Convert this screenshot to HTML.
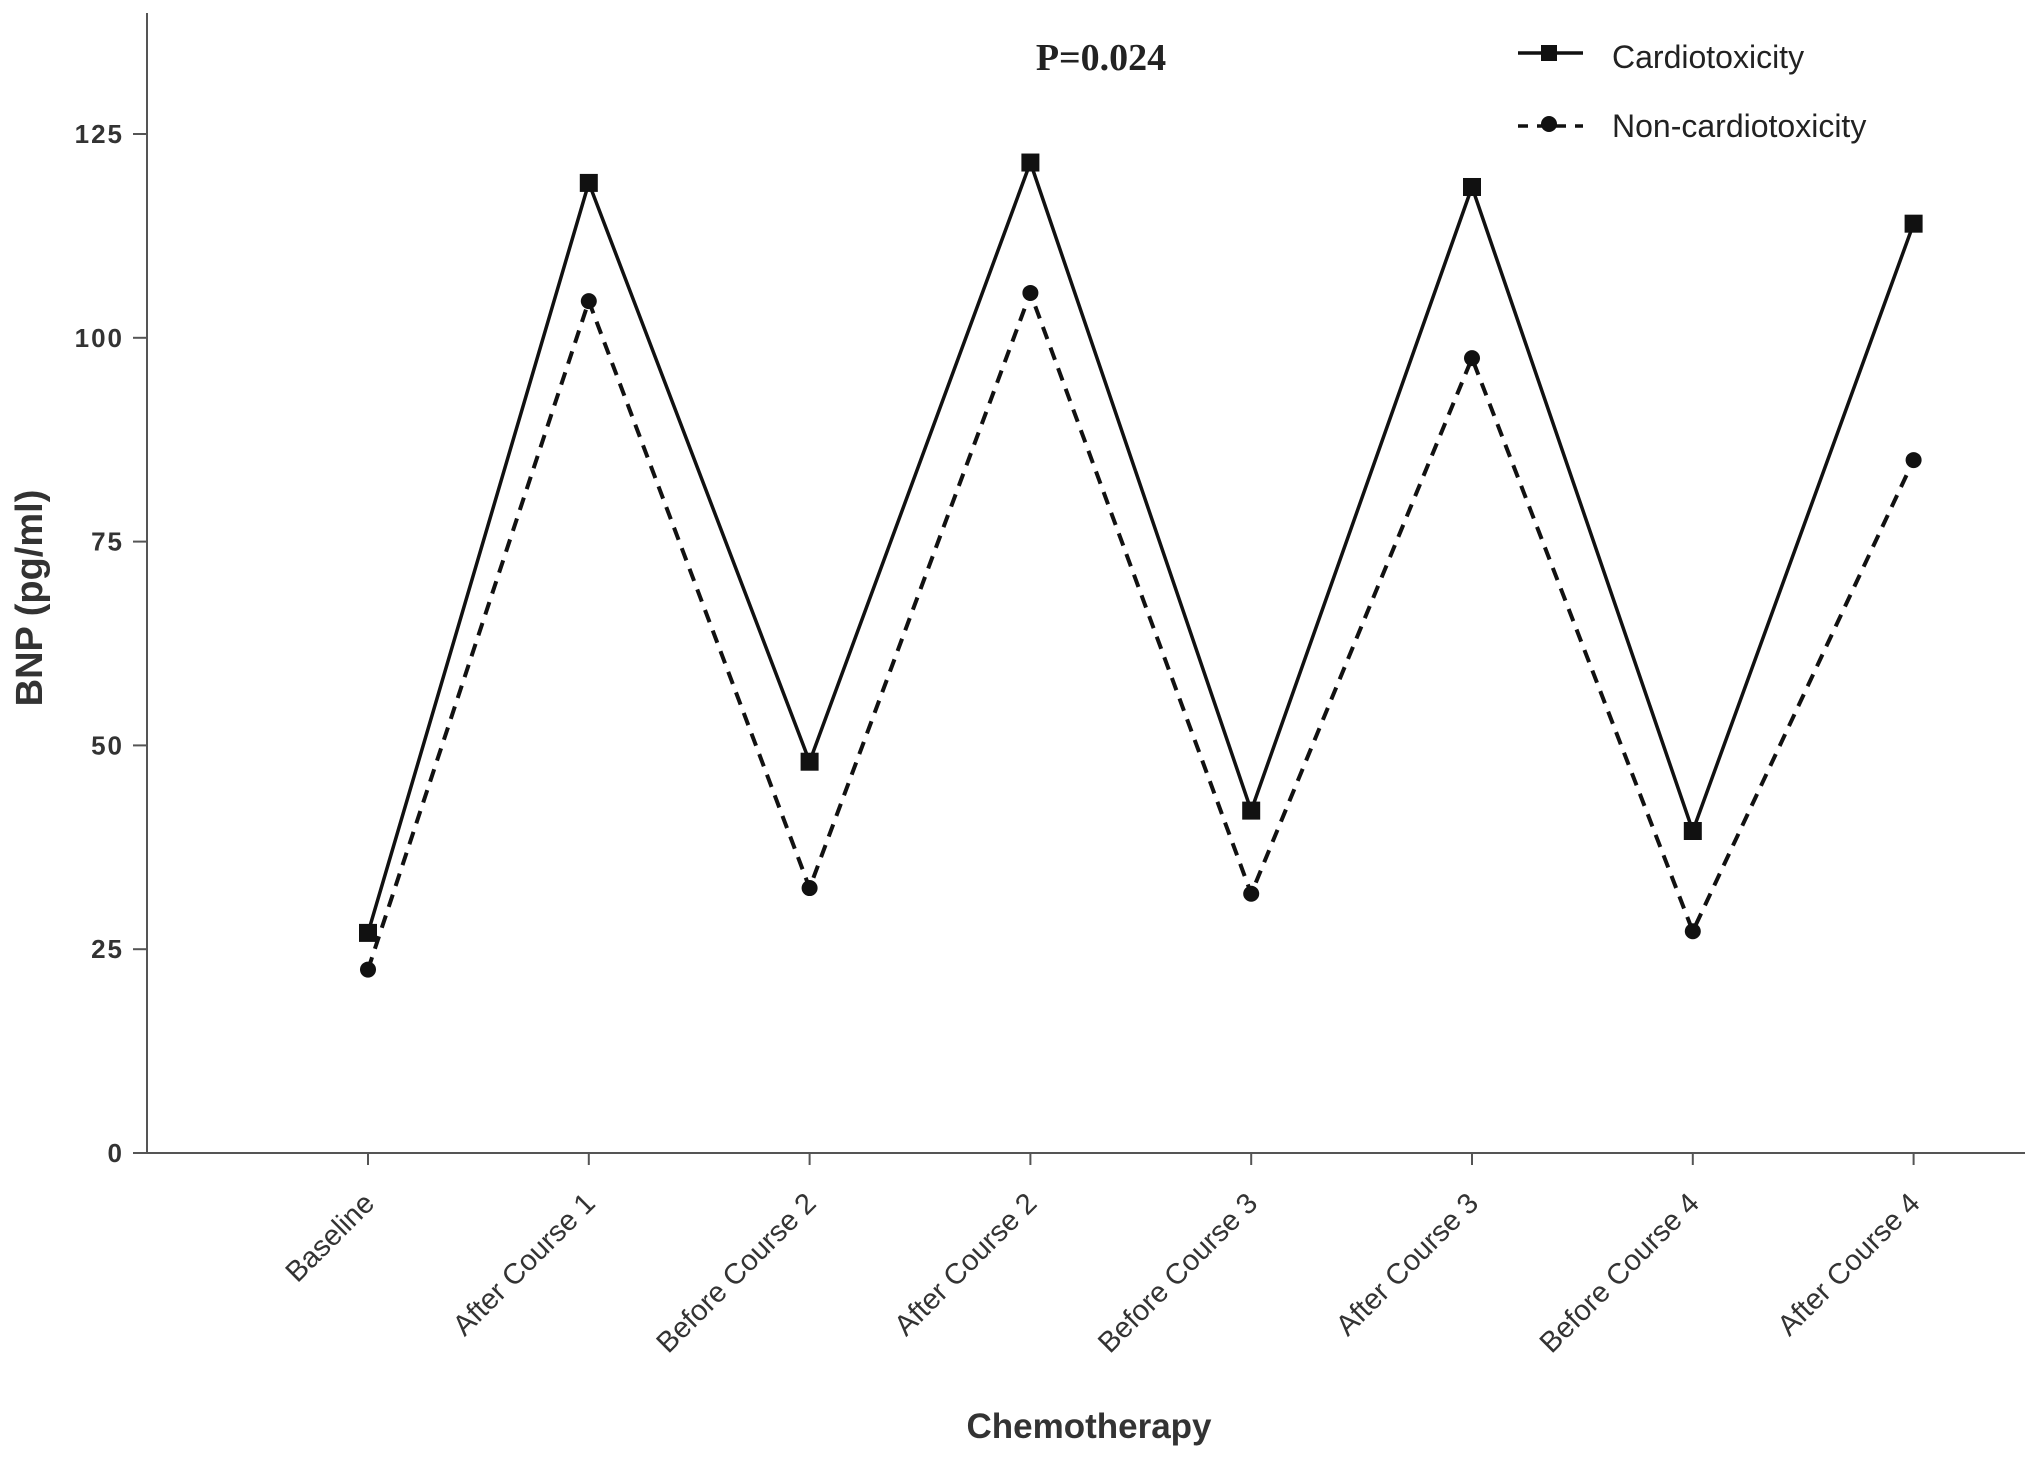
<!DOCTYPE html>
<html><head><meta charset="utf-8"><style>
html,body{margin:0;padding:0;background:#fff;}
svg{display:block;font-family:"Liberation Sans",sans-serif;}
</style></head><body>
<svg id="chart" width="2031" height="1457" viewBox="0 0 2031 1457">
<g id="axes"></g>
<g id="series"></g>
<text x="1101" y="70" font-family="Liberation Serif, serif" font-weight="bold" font-size="38" text-anchor="middle" fill="#222">P=0.024</text>
<g>
  <g>
    <line x1="1518" y1="53" x2="1583" y2="53" stroke="#111" stroke-width="3.5"/>
    <rect x="1541" y="45" width="16" height="16" fill="#111"/>
    <text x="1612" y="68" font-size="32" fill="#222">Cardiotoxicity</text>
  </g>
  <g>
    <line x1="1518" y1="126" x2="1583" y2="126" stroke="#111" stroke-width="3.5" stroke-dasharray="10,9"/>
    <circle cx="1549" cy="124" r="8" fill="#111"/>
    <text x="1612" y="137" font-size="32" fill="#222">Non-cardiotoxicity</text>
  </g>
</g>
<text x="1089" y="1438" font-size="35" font-weight="bold" text-anchor="middle" fill="#333">Chemotherapy</text>
<text transform="translate(42,598) rotate(-90)" font-size="38" font-weight="bold" text-anchor="middle" fill="#333">BNP (pg/ml)</text>
</svg>
<script>
const categories = ["Baseline","After Course 1","Before Course 2","After Course 2","Before Course 3","After Course 3","Before Course 4","After Course 4"];
const cardioValues = [27, 119, 48, 121.5, 42, 118.5, 39.5, 114];
const nonCardioValues = [22.5, 104.5, 32.5, 105.5, 31.8, 97.5, 27.2, 85];
const yTicks = [0, 25, 50, 75, 100, 125];

const NS = "http://www.w3.org/2000/svg";
const X0 = 368, XSTEP = 220.8, Y0 = 1153, YPER = (1153 - 134) / 125;
function xPos(i){ return X0 + XSTEP * i; }
function yPos(v){ return Y0 - v * YPER; }
function mk(tag, attrs, parent){ const e = document.createElementNS(NS, tag); for (const k in attrs) e.setAttribute(k, attrs[k]); parent.appendChild(e); return e; }

const axes = document.getElementById('axes');
let yl = mk('line', {x1:147, y1:13, x2:147, y2:Y0, stroke:'#555', 'stroke-width':2}, axes);


let xl = mk('line', {x1:147, y1:Y0, x2:2025, y2:Y0, stroke:'#555', 'stroke-width':2}, axes);


yTicks.forEach(t => {
  const y = yPos(t);
  const tk = mk('line', {x1:133, y1:y, x2:147, y2:y, stroke:'#555', 'stroke-width':2}, axes);
  
  
  const lb = mk('text', {x:124, y:y+9, 'font-size':26, 'font-weight':'bold', 'text-anchor':'end', fill:'#333', 'letter-spacing':'2'}, axes);
  lb.textContent = t;
  
  
});
categories.forEach((c, i) => {
  const x = xPos(i);
  const tk = mk('line', {x1:x, y1:Y0, x2:x, y2:Y0+12, stroke:'#555', 'stroke-width':2}, axes);
  
  
  const lb = mk('text', {transform:`translate(${x+8},${Y0+52}) rotate(-45)`, 'font-size':29, 'text-anchor':'end', fill:'#333'}, axes);
  lb.textContent = c;
  
  
});

const series = document.getElementById('series');
function pts(vals){ return vals.map((v,i)=>xPos(i)+','+yPos(v)).join(' '); }
const l1 = mk('polyline', {points:pts(cardioValues), fill:'none', stroke:'#111', 'stroke-width':3.5}, series);


const l2 = mk('polyline', {points:pts(nonCardioValues), fill:'none', stroke:'#111', 'stroke-width':4, 'stroke-dasharray':'13,9'}, series);


cardioValues.forEach((v,i) => {
  const r = mk('rect', {x:xPos(i)-9, y:yPos(v)-9, width:18, height:18, fill:'#111'}, series);
  
  
});
nonCardioValues.forEach((v,i) => {
  const c = mk('circle', {cx:xPos(i), cy:yPos(v), r:8, fill:'#111'}, series);
  
  
});
</script>
</body></html>
